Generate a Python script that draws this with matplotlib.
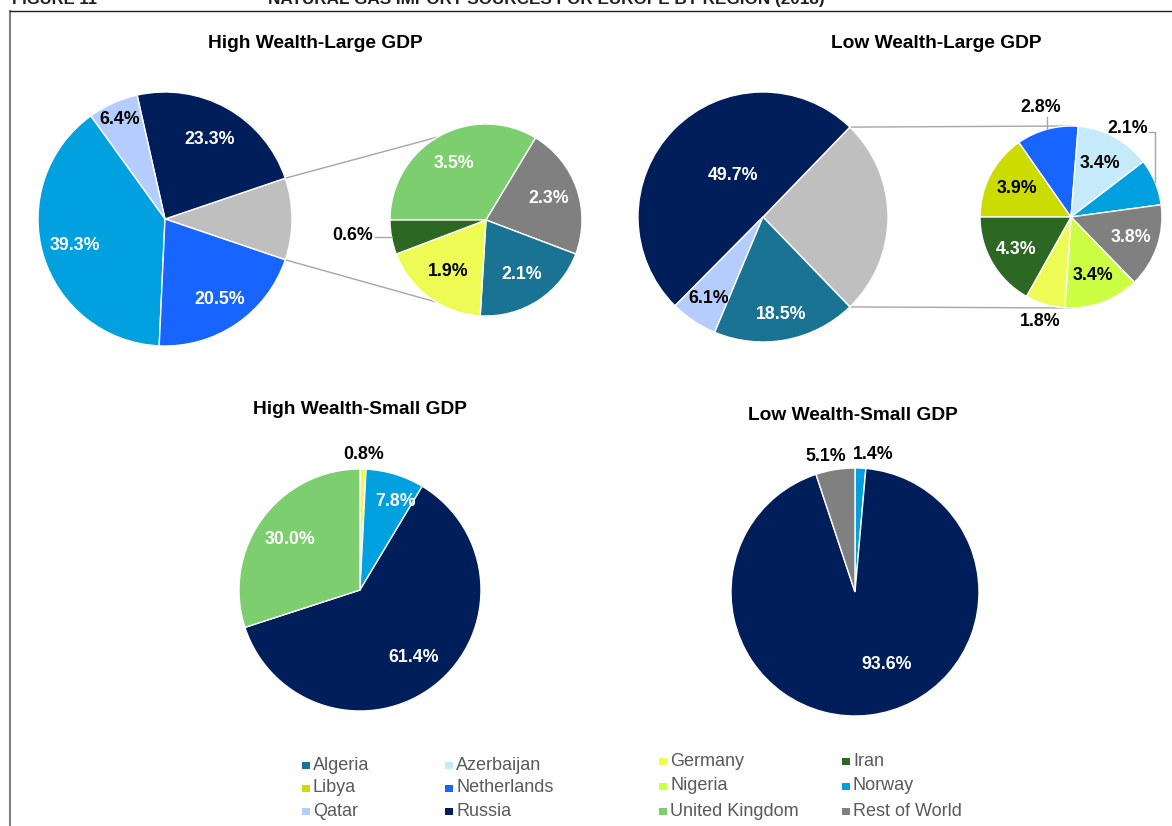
import numpy as np
import matplotlib
matplotlib.use("Agg")
import matplotlib.pyplot as plt
from matplotlib.patches import Rectangle

plt.rcParams['font.family'] = ['Liberation Sans', 'DejaVu Sans']

W, H = 1172, 826

# ------------------------
# Data (percent of imports)
# ------------------------
hwlg_main_names = ['Russia', 'Qatar', 'Norway', 'Netherlands']
hwlg_main_values = [23.3, 6.4, 39.3, 20.5]
hwlg_sub_names = ['United Kingdom', 'Rest of World', 'Algeria', 'Germany', 'Iran']
hwlg_sub_values = [3.5, 2.3, 2.1, 1.9, 0.6]

lwlg_main_names = ['Russia', 'Qatar', 'Algeria']
lwlg_main_values = [49.7, 6.1, 18.5]
lwlg_sub_names = ['Libya', 'Netherlands', 'Azerbaijan', 'Norway',
                  'Rest of World', 'Nigeria', 'Germany', 'Iran']
lwlg_sub_values = [3.9, 2.8, 3.4, 2.1, 3.8, 3.4, 1.8, 4.3]

hwsg_names = ['Germany', 'Norway', 'Russia', 'United Kingdom']
hwsg_values = [0.8, 7.8, 61.4, 30.0]

lwsg_names = ['Norway', 'Russia', 'Rest of World']
lwsg_values = [1.4, 93.6, 5.1]

legend_left = ['Algeria', 'Libya', 'Qatar', 'Azerbaijan', 'Netherlands', 'Russia']
legend_right = ['Germany', 'Nigeria', 'United Kingdom', 'Iran', 'Norway', 'Rest of World']

colors = {
    'Algeria': '#1B7393', 'Azerbaijan': '#C5EBFB', 'Germany': '#EEFB55',
    'Iran': '#2D6822', 'Libya': '#CCDB00', 'Netherlands': '#1764FF',
    'Nigeria': '#CCFF44', 'Norway': '#00A1DE', 'Qatar': '#B4CCFE',
    'Russia': '#001E5A', 'United Kingdom': '#7DCE6E', 'Rest of World': '#808080',
    'Other': '#BFBFBF',
}
dark = {'Algeria', 'Iran', 'Netherlands', 'Norway', 'Russia',
        'United Kingdom', 'Rest of World'}
LINE = '#A6A6A6'
LABEL_SIZE = 12.8


def Y(y):
    # image row -> axes y
    return H - y


def draw_pie(ax, names, values, cx, cy, r, start, ccw, specs):
    wedges, _ = ax.pie(values, colors=[colors[n] for n in names],
                       center=(cx, Y(cy)), radius=r, startangle=start,
                       counterclock=ccw,
                       wedgeprops=dict(edgecolor='white', linewidth=1))
    cy = Y(cy)
    for w, n, v, spec in zip(wedges, names, values, specs):
        if spec is None:
            continue
        rr, dang, mode = spec
        txt = f"{v:.1f}%"
        mid = np.deg2rad((w.theta1 + w.theta2) / 2)
        ex, ey = cx + r * np.cos(mid), cy + r * np.sin(mid)
        kw = dict(fontsize=LABEL_SIZE, fontweight='bold', zorder=5)
        if mode is None:
            a = mid + np.deg2rad(dang)
            col = 'white' if (n in dark and rr < 1) else 'black'
            ax.text(cx + rr * r * np.cos(a), cy + rr * r * np.sin(a), txt,
                    ha='center', va='center', color=col, **kw)
        elif mode == 'h':
            xe = cx - rr * r
            ax.plot([ex, xe], [ey, ey], color=LINE, lw=1, zorder=1)
            ax.text(xe - 2, ey + 2, txt, ha='right', va='center', **kw)
        elif mode == 'v':
            yt = cy + rr * r
            ax.plot([ex, ex], [ey, yt], color=LINE, lw=1, zorder=1)
            ax.text(ex - 6, yt + 1, txt, ha='center', va='bottom', **kw)
        elif mode == 'vh':
            yt = cy + rr * r
            ax.plot([ex, ex, ex - 6], [ey, yt, yt], color=LINE, lw=1, zorder=1)
            ax.text(ex - 7, yt + 4, txt, ha='right', va='center', **kw)
    return wedges


def pie_of_pie(ax, names, values, sub_names, sub_values, main, sub,
               main_specs, sub_specs):
    other = sum(sub_values)
    m_names = ['Other'] + names
    m_values = [other] + values
    start = -other / sum(m_values) * 180
    mw = draw_pie(ax, m_names, m_values, *main, start, True, [None] + main_specs)
    draw_pie(ax, sub_names, sub_values, *sub, 180, False, sub_specs)
    # connector lines from grey wedge to top / bottom of the secondary pie
    cx, cy, r = main
    sx, sy, sr = sub
    g = mw[0]
    for th, ty in [(g.theta2, Y(sy) + sr), (g.theta1, Y(sy) - sr)]:
        t = np.deg2rad(th)
        ax.plot([cx + r * np.cos(t), sx], [Y(cy) + r * np.sin(t), ty],
                color=LINE, lw=1, zorder=0)


fig = plt.figure(figsize=(W / 100, H / 100), dpi=100)
ax = fig.add_axes([0, 0, 1, 1])

# High Wealth-Large GDP
pie_of_pie(ax, hwlg_main_names, hwlg_main_values, hwlg_sub_names, hwlg_sub_values,
           (165, 219, 127), (486, 220, 96),
           [(0.72, 0, None), (0.86, 0, None), (0.74, 0, None), (0.77, 0, None)],
           [(0.67, 0, None), (0.69, 0, None), (0.68, 0, None), (0.67, 0, None),
            (1.16, 0, 'h')])

# Low Wealth-Large GDP
pie_of_pie(ax, lwlg_main_names, lwlg_main_values, lwlg_sub_names, lwlg_sub_values,
           (763, 217, 125), (1071, 217, 91),
           [(0.41, -10, None), (0.78, 0, None), (0.79, 0, None)],
           [(0.67, 0, None), (1.1, 0, 'v'), (0.67, 0, None), (0.93, 0, 'vh'),
            (0.7, 0, None), (0.69, 0, None), (1.2, 0, None), (0.7, 0, None)])

# High Wealth-Small GDP
draw_pie(ax, hwsg_names, hwsg_values, 360, 590, 121, 90, False,
         [(1.12, 0, None), (0.79, -5, None), (0.71, 0, None), (0.71, 0, None)])

# Low Wealth-Small GDP
draw_pie(ax, lwsg_names, lwsg_values, 855, 592, 124, 90, False,
         [(1.12, -5, None), (0.64, 17, None), (1.12, 3, None)])

titles = [('High Wealth-Large GDP', 315, 44), ('Low Wealth-Large GDP', 936, 44),
          ('High Wealth-Small GDP', 360, 410), ('Low Wealth-Small GDP', 853, 415)]
for t, x, y in titles:
    ax.text(x, Y(y), t, ha='center', va='center', fontsize=13.8, fontweight='bold')

# legend (two blocks of two columns)
for names, xs, ys in [(legend_left, [302, 445], [765, 788, 811]),
                      (legend_right, [659, 842], [761, 786, 811])]:
    for i, n in enumerate(names):
        x, y = xs[i // 3], ys[i % 3]
        ax.add_patch(Rectangle((x, Y(y) - 4), 7.5, 7.5, color=colors[n], lw=0))
        ax.text(x + 11, Y(y), n, ha='left', va='center', fontsize=13,
                color='#595959')

# frame and (clipped) figure caption
ax.plot([10, 10], [0, Y(11)], color='#808080', lw=1.5, zorder=0)
ax.plot([10, W], [Y(11), Y(11)], color='#202020', lw=1, zorder=0)
ax.text(12, Y(4), 'FIGURE 11', fontsize=12, fontweight='bold', va='baseline',
        color='#202020', clip_on=False)
ax.text(268, Y(4), 'NATURAL GAS IMPORT SOURCES FOR EUROPE BY REGION (2018)',
        fontsize=12.3, fontweight='bold', va='baseline', color='#202020',
        clip_on=False)

ax.set_xlim(0, W)
ax.set_ylim(0, H)
ax.axis('off')

fig.savefig('out.png', dpi=100, facecolor='white')
